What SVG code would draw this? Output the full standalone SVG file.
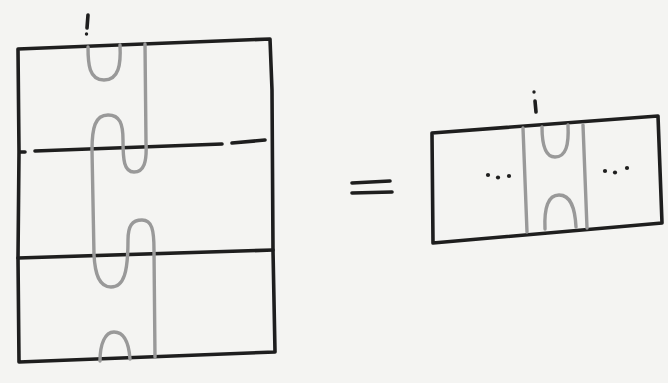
<svg xmlns="http://www.w3.org/2000/svg" width="668" height="383" viewBox="0 0 668 383">
<style>
.ink{fill:none;stroke:#1e1e1e;stroke-width:3.6;stroke-linecap:round;stroke-linejoin:round}
.str{fill:none;stroke:#999;stroke-width:3.4;stroke-linecap:round;stroke-linejoin:round}
.dot{fill:#1e1e1e}
</style>
<rect width="668" height="383" fill="#f4f4f2"/>
<g id="left-stack">
  <g id="left-frame">
    <path class="ink" d="M18,49 L270,39 L272,90 L273,250 L275,352 L19,362 L18,258 L19,152 Z"/>
    <path class="ink" d="M20,152 L25,152 M35,151 L222,144 M232,143 L265,140"/>
    <path class="ink" d="M18,258 L273,250"/>
  </g>
  <g id="left-strands">
    <path class="str" d="M88,47 C88,64 89,80 104,80 C119,80 121,64 120,45"/>
    <path class="str" d="M145,44 L146,143 C147,162 144,172 134,172 C124,172 123,160 123,140 C123,124 120,115 108,115 C95,115 92,128 92,150 L94,255 C95,274 99,287 111,287 C124,287 128,272 128,240 C128,226 132,220 142,220 C152,220 154,230 154,250 L155,357"/>
    <path class="str" d="M100,361 C100,344 105,332 114,332 C125,332 129,345 130,359"/>
  </g>
  <path class="ink" d="M88,15 L87,28" stroke-width="2.6"/>
  <circle class="dot" cx="86.5" cy="34" r="1.7"/>
</g>
<g id="equals">
  <path class="ink" d="M352,183 L390,181 M352,193 L392,192" stroke-width="4.8"/>
</g>
<g id="right-box">
  <g id="right-frame">
    <path class="ink" d="M432,133 L658,116 L662,223 L433,243 Z"/>
  </g>
  <g id="right-strands">
    <path class="str" d="M523,128 L527,232"/>
    <path class="str" d="M583,125 L587,228"/>
    <path class="str" d="M542,127 C542,146 546,157 555,157 C566,157 569,145 568,125"/>
    <path class="str" d="M545,229 C544,208 548,195 559,195 C571,195 575,208 576,227"/>
  </g>
  <circle class="dot" cx="488" cy="175" r="2.1"/>
  <circle class="dot" cx="498" cy="177.5" r="2.1"/>
  <circle class="dot" cx="509" cy="176" r="2.1"/>
  <circle class="dot" cx="605" cy="171" r="2.1"/>
  <circle class="dot" cx="615" cy="172.5" r="2.1"/>
  <circle class="dot" cx="627" cy="168" r="2.1"/>
  <circle class="dot" cx="534" cy="92" r="1.7"/>
  <path class="ink" d="M535,101 L536,112" stroke-width="2.6"/>
</g>
</svg>
